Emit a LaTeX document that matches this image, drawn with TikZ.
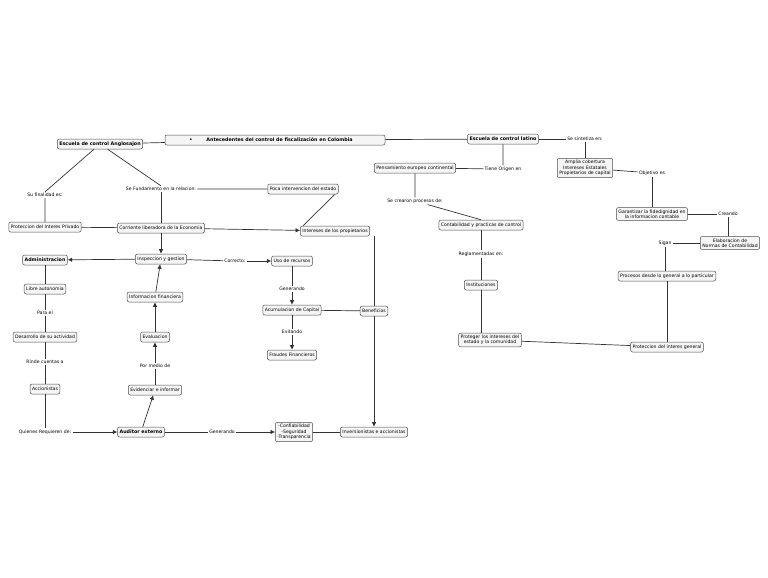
\documentclass[tikz,border=0pt]{standalone}
\usepackage{fontspec}
\setmainfont{DejaVu Sans}
\usetikzlibrary{arrows.meta}
\tikzset{%
  >={Latex[width=1.6mm,length=1.6mm]},
  % Specifications for style of nodes:
       concept/.style = {rectangle, rounded corners=2pt, draw=black!70,
                         fill=gray!8, line width=0.5pt, align=center,
                         inner sep=2pt, minimum height=10pt,
                         font=\fontsize{4.6}{5.4}\selectfont},
   mainconcept/.style = {concept, font=\fontsize{4.8}{5.6}\selectfont\bfseries},
      linkword/.style = {fill=white, inner sep=1pt,
                         font=\fontsize{4.6}{5.4}\selectfont},
}
\begin{document}
\begin{tikzpicture}[x=1pt, y=-1pt, line width=0.7pt, draw=black!80]
  \useasboundingbox (0,0) rectangle (768,578);
  % Specification of nodes (position, etc.)
  \node (title)    [mainconcept, minimum width=220pt] at (275,140)
        {\textbullet\hspace{14pt}Antecedentes del control de fiscalización en Colombia\hspace{8pt}};
  \node (anglo)    [mainconcept] at (100,144) {Escuela de control Anglosajon};
  \node (latino)   [mainconcept] at (503,139) {Escuela de control latino};
  \node (finalidad)[linkword] at (45,195)  {Su finalidad es:};
  \node (fundam)   [linkword] at (161,189) {Se Fundamento en la relacion:};
  \node (poca)     [concept] at (303,189)  {Poca intervencion del estado};
  \node (privado)  [concept] at (45,227)   {Proteccion del Interes Privado};
  \node (corriente)[concept] at (161,228)  {Corriente liberadora de la Economia};
  \node (intereses)[concept] at (335,231)  {Intereses de los propietarios};
  \node (admin)    [mainconcept] at (45,260) {Administracion};
  \node (inspec)   [concept] at (161,259)  {Inspeccion y gestion};
  \node (correcto) [linkword] at (235,261) {Correcto:};
  \node (uso)      [concept] at (292,261)  {Uso de recursos};
  \node (libre)    [concept] at (45,289)   {Libre autonomia};
  \node (infofin)  [concept] at (155,297)  {Informacion financiera};
  \node (generaA)  [linkword] at (292,289) {Generando};
  \node (acumul)   [concept] at (292,310)  {Acumulacion de Capital};
  \node (benef)    [concept] at (374,311)  {Beneficios};
  \node (parael)   [linkword] at (45,313)  {Para el};
  \node (desarr)   [concept] at (45,337)   {Desarrollo de su actividad};
  \node (evalua)   [concept] at (155,337)  {Evaluacion};
  \node (evitando) [linkword] at (292,332) {Evitando};
  \node (fraudes)  [concept] at (292,355)  {Fraudes Financieros};
  \node (rinde)    [linkword] at (45,362)  {Rinde cuentas a};
  \node (pormedio) [linkword] at (155,366) {Por medio de};
  \node (accion)   [concept] at (45,389)   {Accionistas};
  \node (evidenc)  [concept] at (155,390)  {Evidenciar e informar};
  \node (quienes)  [linkword] at (45,432)  {Quienes Requieren de:};
  \node (auditor)  [mainconcept] at (141,432) {Auditor externo};
  \node (generaB)  [linkword] at (222,432) {Generando};
  \node (confiab)  [concept] at (294,432)  {-Confiabilidad\\-Seguridad\\-Transparencia};
  \node (inversion)[concept] at (374,432)  {Inversionistas e accionistas};
  \node (pensam)   [concept] at (415,168)  {Pensamiento europeo continental};
  \node (origen)   [linkword] at (503,169) {Tiene Origen en};
  \node (crearon)  [linkword] at (415,201) {Se crearon procesos de:};
  \node (contab)   [concept] at (481,225)  {Contabilidad y practicas de control};
  \node (reglam)   [linkword] at (481,254) {Reglamentadas en:};
  \node (instit)   [concept] at (481,285)  {Instituciones};
  \node (proteger) [concept] at (490,340)  {Proteger los intereses del\\estado y la comunidad};
  \node (protecc)  [concept] at (667,347)  {Proteccion del interes general};
  \node (sintet)   [linkword] at (585,139) {Se sintetiza en:};
  \node (amplia)   [concept] at (585,168)  {Amplia cobertura\\Intereses Estatales\\Propietarios de capital};
  \node (objetivo) [linkword] at (652,173) {Objetivo es};
  \node (garant)   [concept] at (652,214)  {Garantizar la fidedignidad en\\la informacion contable};
  \node (creando)  [linkword] at (728,214) {Creando};
  \node (elabor)   [concept] at (730,243)  {Elaboracion de\\Normas de Contabilidad};
  \node (sigan)    [linkword] at (665,243) {Sigan};
  \node (procesos) [concept] at (667,276)  {Procesos desde lo general a lo particular};

  \draw (title) -- (anglo);
  \draw (title) -- (latino);
  \draw (anglo) -- (finalidad.north) (finalidad) -- (privado);
  \draw (anglo) -- (fundam.north) (poca) -- (fundam);
  \draw (fundam) -- (corriente);
  \draw (poca.south -| intereses.north) -- (intereses.north -| poca.south);
  \draw (privado) -- (corriente);
  \draw[->] (corriente) -- (intereses);
  \draw[->] (corriente) -- (inspec);
  \draw[->] (inspec) -- (admin);
  \draw (inspec) -- (correcto);
  \draw[->] (correcto) -- (uso);
  \draw (uso) -- (generaA);
  \draw[->] (generaA) -- (acumul);
  \draw (acumul) -- (benef);
  \draw (acumul) -- (evitando);
  \draw[->] (evitando) -- (fraudes);
  \draw (intereses.south -| benef.north) -- (benef);
  \draw[->] (benef) -- (inversion);
  \draw (admin) -- (libre) -- (parael) -- (desarr) -- (rinde) -- (accion) -- (quienes);
  \draw[->] (quienes) -- (auditor);
  \draw[->] (auditor) -- (evidenc);
  \draw (evidenc) -- (pormedio);
  \draw[->] (pormedio) -- (evalua);
  \draw[->] (evalua) -- (infofin);
  \draw[->] (infofin) -- (inspec);
  \draw (auditor) -- (generaB);
  \draw[->] (generaB) -- (confiab);
  \draw (confiab) -- (inversion);
  \draw (latino) -- (origen.north) (origen) -- (pensam);
  \draw (pensam) -- (crearon) -- (contab.north);
  \draw (contab) -- (reglam) -- (instit) -- (instit |- proteger.north);
  \draw (proteger) -- (protecc);
  \draw (protecc) -- (procesos);
  \draw (procesos.north -| sigan) -- (sigan) -- (elabor);
  \draw (latino) -- (sintet);
  \draw (sintet.south -| amplia.north) -- (amplia.north);
  \draw (amplia) -- (objetivo);
  \draw (objetivo.south) -- (garant.north -| objetivo.south);
  \draw (garant) -- (creando);
  \draw (creando.south) -- (elabor.north -| creando.south);
\end{tikzpicture}
\end{document}
